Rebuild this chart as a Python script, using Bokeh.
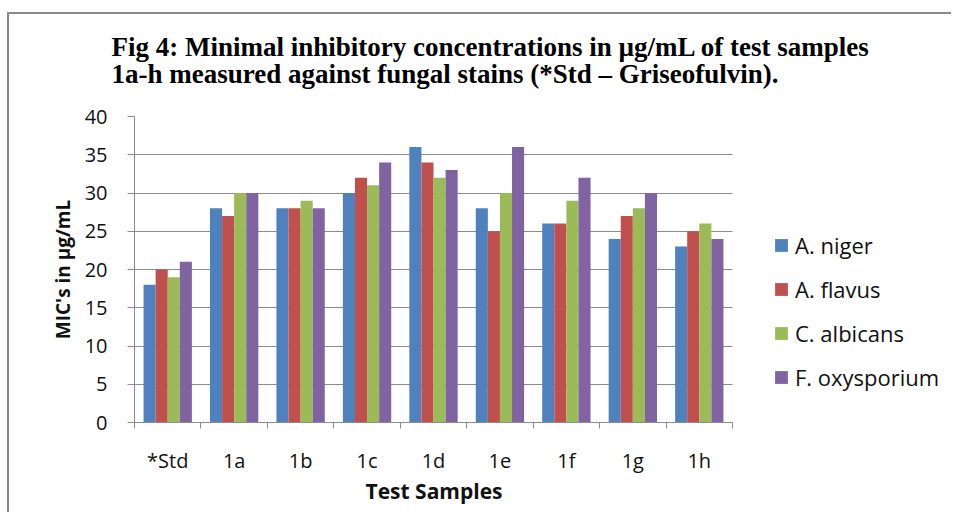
from bokeh.plotting import figure
from bokeh.models import (Range1d, FixedTicker, SingleIntervalTicker, ColumnDataSource,
                          Legend, LegendItem, Title)
from bokeh.transform import dodge
from bokeh.embed import file_html
from bokeh.resources import INLINE

# ---- data ----
samples = ["*Std", "1a", "1b", "1c", "1d", "1e", "1f", "1g", "1h"]
a_niger = [18, 28, 28, 30, 36, 28, 26, 24, 23]
a_flavus = [20, 27, 28, 32, 34, 25, 26, 27, 25]
c_albicans = [19, 30, 29, 31, 32, 30, 29, 28, 26]
f_oxysporium = [21, 30, 28, 34, 33, 36, 32, 30, 24]
series_names = ["A. niger", "A. flavus", "C. albicans", "F. oxysporium"]
series_values = [a_niger, a_flavus, c_albicans, f_oxysporium]
colors = ["#4F81BD", "#C0504D", "#9BBB59", "#8064A2"]
y_ticks_step = 5
y_max = 40
title_line1 = "Fig 4: Minimal inhibitory concentrations in \u00b5g/mL of test samples"
title_line2 = "1a-h measured against fungal stains (*Std \u2013 Griseofulvin)."
x_title = "Test Samples"
y_title = "MIC's in \u00b5g/mL"

W, H = 944, 500
GRID = "#8c8c8c"
FONT = "Open Sans"
LEFT, TOP, BOTTOM = 125, 102, 92
PLOT_W = 598                      # pixel width of the category area
n = len(samples)
x_end = n * (W - LEFT) / PLOT_W    # frame extends to the right edge (room for legend)

centers = [i + 0.5 for i in range(n)]
src = ColumnDataSource(dict(xc=centers, **{f"s{k}": v for k, v in enumerate(series_values)}))

p = figure(width=W, height=H, output_backend="svg", toolbar_location=None,
           x_range=Range1d(0, x_end), y_range=Range1d(0, y_max),
           min_border_left=LEFT, min_border_right=0, min_border_top=TOP,
           min_border_bottom=BOTTOM)
p.styles = {"border-top": "2px solid #8a8a8a", "border-left": "2px solid #8a8a8a",
            "margin-top": "12px", "margin-left": "7px"}
p.outline_line_color = None
p.background_fill_color = "white"
p.border_fill_color = "white"

bw = 1 / 5.5
renderers = []
for k, (name, col) in enumerate(zip(series_names, colors)):
    r = p.vbar(x=dodge("xc", (k - 1.5) * bw, range=p.x_range), top=f"s{k}", width=bw,
               source=src, fill_color=col, line_color=None)
    renderers.append(r)

# grid
p.xgrid.visible = False
p.ygrid.grid_line_color = GRID
p.ygrid.grid_line_width = 1
p.ygrid.cross_bounds = (0, n)

# y axis
p.yaxis.ticker = SingleIntervalTicker(interval=y_ticks_step)
p.yaxis.axis_line_color = GRID
p.yaxis.major_tick_line_color = GRID
p.yaxis.major_tick_out = 7
p.yaxis.major_tick_in = 0
p.yaxis.minor_tick_line_color = None
p.yaxis.major_label_text_font = FONT
p.yaxis.major_label_text_font_size = "20px"
p.yaxis.major_label_text_color = "#111111"
p.yaxis.major_label_standoff = 20
p.yaxis.axis_label = y_title
p.yaxis.axis_label_text_font = FONT
p.yaxis.axis_label_text_font_size = "19px"
p.yaxis.axis_label_text_font_style = "bold"
p.yaxis.axis_label_text_color = "#111111"
p.yaxis.axis_label_standoff = 6

# x axis
p.xaxis.bounds = (0, n)
p.xaxis.ticker = FixedTicker(ticks=centers, minor_ticks=list(range(n + 1)))
p.xaxis.major_label_overrides = {c: s for c, s in zip(centers, samples)}
p.xaxis.axis_line_color = GRID
p.xaxis.major_tick_line_color = None
p.xaxis.major_tick_out = 0
p.xaxis.major_tick_in = 0
p.xaxis.minor_tick_line_color = GRID
p.xaxis.minor_tick_out = 6
p.xaxis.minor_tick_in = 0
p.xaxis.major_label_text_font = FONT
p.xaxis.major_label_text_font_size = "20px"
p.xaxis.major_label_text_color = "#111111"
p.xaxis.major_label_standoff = 18

# x axis title, centred under the category area
p.add_layout(Title(text=x_title, align="left", offset=231, standoff=0,
                   vertical_align="top", text_font=FONT, text_font_style="bold",
                   text_font_size="21px", text_color="#111111"), "below")

# legend (inside the wide frame, right of the bars)
legend = Legend(items=[LegendItem(label=nm, renderers=[r]) for nm, r in zip(series_names, renderers)],
                location=(PLOT_W + 41, 30), padding=0, margin=0, border_line_color=None,
                background_fill_alpha=0, glyph_width=16, glyph_height=16, label_height=20,
                spacing=14, label_standoff=6, label_text_font=FONT,
                label_text_font_size="22px", label_text_color="#111111")
p.add_layout(legend, "center")

# title (two lines; an empty third line lifts it without a large standoff)
p.add_layout(Title(text=title_line1 + "\n" + title_line2 + "\n ", align="left", offset=-23,
                   standoff=2, text_font="Liberation Serif", text_font_style="bold",
                   text_font_size="27px", text_color="#000000", text_line_height=0.9),
             "above")

open("out.html", "w").write(file_html(p, INLINE))
